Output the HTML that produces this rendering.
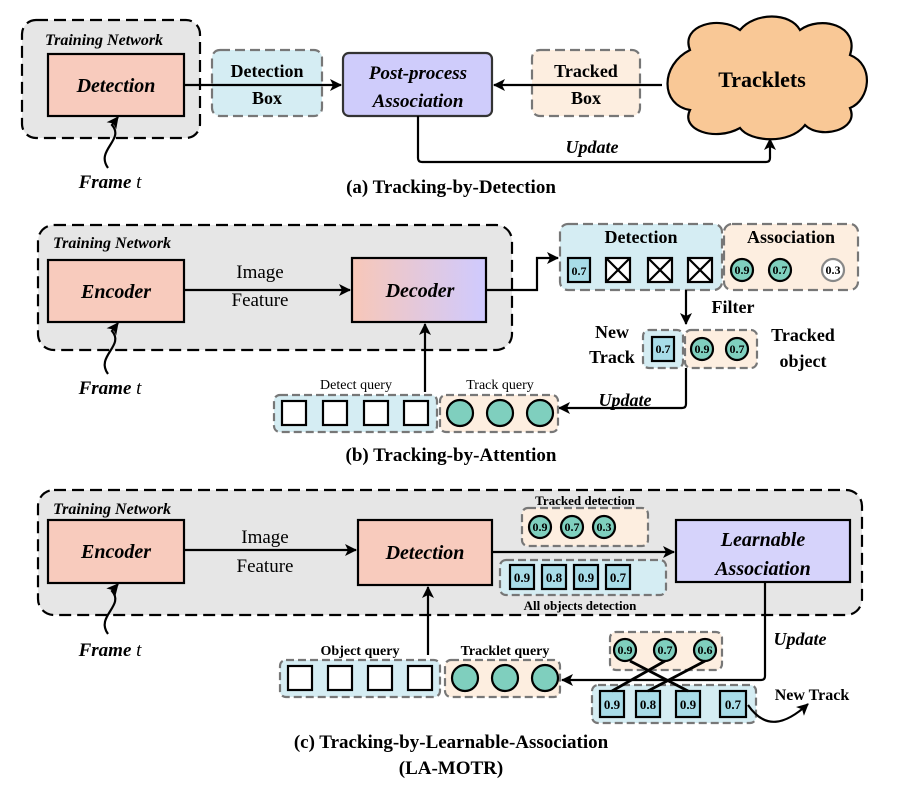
<!DOCTYPE html>
<html><head><meta charset="utf-8"><style>body{margin:0;background:#fff}svg{display:block}text{font-family:"Liberation Serif",serif}</style></head><body>
<svg width="912" height="797" viewBox="0 0 912 797" xmlns="http://www.w3.org/2000/svg">
<defs>
<marker id="ar" markerWidth="12" markerHeight="12" refX="11" refY="6" orient="auto" markerUnits="userSpaceOnUse"><path d="M0,0 L12,6 L0,12 L3,6z" fill="#000"/></marker>
<linearGradient id="dg" x1="0" x2="1"><stop offset="0" stop-color="#f8c7b8"/><stop offset="1" stop-color="#cfcaff"/></linearGradient>
</defs>
<g fill="none" stroke="#000" stroke-width="2.2">
<!-- (a) -->
<rect x="22" y="20" width="178" height="118" rx="14" fill="#e6e6e6" stroke-dasharray="12,6"/>
<rect x="48" y="54" width="136" height="62" fill="#f8cbbd"/>
<rect x="212" y="50" width="110" height="66" rx="8" fill="#d5edf3" stroke="#777" stroke-dasharray="10,5"/>
<rect x="343" y="53" width="149" height="63" rx="6" fill="#cfccfb" stroke="#333"/>
<rect x="532" y="50" width="108" height="66" rx="8" fill="#fdeee0" stroke="#777" stroke-dasharray="10,5"/>
<path d="M690,50 C680,25 720,15 740,30 C755,12 790,12 800,30 C820,15 860,25 850,55 C875,65 870,100 850,108 C860,130 820,140 805,125 C790,145 750,142 740,128 C715,142 680,130 690,110 C660,105 660,65 690,50z" fill="#f9c896"/>
<path d="M184,85 H341" marker-end="url(#ar)"/>
<path d="M662,85 H494" marker-end="url(#ar)"/>
<path d="M418,116 V158 Q418,162 422,162 H766 Q770,162 770,158 V139" marker-end="url(#ar)"/>
<path d="M108,168 C95,150 125,140 112,125 L118,117" marker-end="url(#ar)"/>
<!-- (b) -->
<rect x="38" y="225" width="474" height="125" rx="16" fill="#e6e6e6" stroke-dasharray="12,6"/>
<rect x="48" y="260" width="136" height="62" fill="#f8cbbd"/>
<rect x="352" y="258" width="134" height="64" fill="url(#dg)"/>
<path d="M184,290 H350" marker-end="url(#ar)"/>
<path d="M486,290 H537 V258 H558" marker-end="url(#ar)"/>
<rect x="560" y="224" width="162" height="66" rx="8" fill="#d5edf3" stroke="#777" stroke-dasharray="10,5"/>
<rect x="724" y="224" width="134" height="66" rx="8" fill="#fdeee0" stroke="#777" stroke-dasharray="10,5"/>
<rect x="568" y="258" width="22" height="24" fill="#a8dce8"/>
<g><rect x="606" y="258" width="24" height="24" fill="#fff"/><path d="M606,258 L630,282 M630,258 L606,282"/></g>
<g><rect x="648" y="258" width="24" height="24" fill="#fff"/><path d="M648,258 L672,282 M672,258 L648,282"/></g>
<g><rect x="688" y="258" width="24" height="24" fill="#fff"/><path d="M688,258 L712,282 M712,258 L688,282"/></g>
<circle cx="742" cy="270" r="11" fill="#7fcfbe"/><circle cx="780" cy="270" r="11" fill="#7fcfbe"/><circle cx="833" cy="270" r="11" fill="#fff" stroke="#888"/>
<path d="M686,290 V324" marker-end="url(#ar)"/>
<rect x="643" y="330" width="40" height="38" rx="6" fill="#d5edf3" stroke="#777" stroke-dasharray="8,4"/>
<rect x="685" y="330" width="72" height="38" rx="6" fill="#fdeee0" stroke="#777" stroke-dasharray="8,4"/>
<rect x="652" y="337" width="22" height="24" fill="#a8dce8"/>
<circle cx="702" cy="349" r="11" fill="#7fcfbe"/><circle cx="737" cy="349" r="11" fill="#7fcfbe"/>
<path d="M686,368 V404 Q686,408 682,408 H559" marker-end="url(#ar)"/>
<rect x="274" y="395" width="163" height="37" rx="6" fill="#d5edf3" stroke="#777" stroke-dasharray="8,4"/>
<rect x="440" y="395" width="118" height="37" rx="6" fill="#fdeee0" stroke="#777" stroke-dasharray="8,4"/>
<rect x="282" y="401" width="24" height="24" fill="#fff"/><rect x="323" y="401" width="24" height="24" fill="#fff"/><rect x="364" y="401" width="24" height="24" fill="#fff"/><rect x="404" y="401" width="24" height="24" fill="#fff"/>
<circle cx="460" cy="413" r="13" fill="#7fcfbe"/><circle cx="500" cy="413" r="13" fill="#7fcfbe"/><circle cx="540" cy="413" r="13" fill="#7fcfbe"/>
<path d="M425,392 V324" marker-end="url(#ar)"/>
<path d="M108,374 C95,356 125,346 112,331 L118,323" marker-end="url(#ar)"/>
<!-- (c) -->
<rect x="38" y="490" width="824" height="125" rx="16" fill="#e6e6e6" stroke-dasharray="12,6"/>
<rect x="48" y="520" width="136" height="63" fill="#f8cbbd"/>
<rect x="358" y="520" width="134" height="65" fill="#f8cbbd"/>
<rect x="676" y="520" width="174" height="62" fill="#d6d3fb"/>
<path d="M184,550 H356" marker-end="url(#ar)"/>
<path d="M492,552 H674" marker-end="url(#ar)"/>
<rect x="522" y="508" width="126" height="38" rx="6" fill="#fdeee0" stroke="#777" stroke-dasharray="8,4"/>
<circle cx="540" cy="527" r="11" fill="#7fcfbe"/><circle cx="572" cy="527" r="11" fill="#7fcfbe"/><circle cx="604" cy="527" r="11" fill="#7fcfbe"/>
<rect x="500" y="560" width="166" height="35" rx="6" fill="#d5edf3" stroke="#777" stroke-dasharray="8,4"/>
<rect x="510" y="565" width="24" height="24" fill="#a8dce8"/><rect x="542" y="565" width="24" height="24" fill="#a8dce8"/><rect x="574" y="565" width="24" height="24" fill="#a8dce8"/><rect x="606" y="565" width="24" height="24" fill="#a8dce8"/>
<rect x="610" y="632" width="112" height="38" rx="6" fill="#fdeee0" stroke="#777" stroke-dasharray="8,4"/>
<circle cx="625" cy="650" r="11" fill="#7fcfbe"/><circle cx="665" cy="650" r="11" fill="#7fcfbe"/><circle cx="705" cy="650" r="11" fill="#7fcfbe"/>
<rect x="592" y="685" width="164" height="38" rx="6" fill="#d5edf3" stroke="#777" stroke-dasharray="8,4"/>
<rect x="600" y="691" width="24" height="26" fill="#a8dce8"/><rect x="636" y="691" width="24" height="26" fill="#a8dce8"/><rect x="676" y="691" width="24" height="26" fill="#a8dce8"/><rect x="720" y="691" width="26" height="26" fill="#a8dce8"/>
<path d="M765,582 V676 Q765,680 761,680 H562" marker-end="url(#ar)"/>
<path d="M630,661 L688,691 M665,661 L612,691 M705,661 L648,691" stroke-width="2.8"/>
<rect x="280" y="660" width="160" height="37" rx="6" fill="#d5edf3" stroke="#777" stroke-dasharray="8,4"/>
<rect x="445" y="660" width="115" height="37" rx="6" fill="#fdeee0" stroke="#777" stroke-dasharray="8,4"/>
<rect x="288" y="666" width="24" height="24" fill="#fff"/><rect x="328" y="666" width="24" height="24" fill="#fff"/><rect x="368" y="666" width="24" height="24" fill="#fff"/><rect x="408" y="666" width="24" height="24" fill="#fff"/>
<circle cx="465" cy="678" r="13" fill="#7fcfbe"/><circle cx="505" cy="678" r="13" fill="#7fcfbe"/><circle cx="545" cy="678" r="13" fill="#7fcfbe"/>
<path d="M428,655 V587" marker-end="url(#ar)"/>
<path d="M748,705 C765,730 785,725 808,704" marker-end="url(#ar)"/>
<path d="M108,634 C95,616 125,606 112,591 L118,584" marker-end="url(#ar)"/>
</g>
<g font-weight="bold" text-anchor="middle">
<text x="104" y="45" font-style="italic" font-size="16">Training Network</text>
<text x="116" y="92" font-style="italic" font-size="20">Detection</text>
<text x="267" y="77" font-size="18">Detection</text><text x="267" y="104" font-size="18">Box</text>
<text x="418" y="79" font-style="italic" font-size="19">Post-process</text><text x="418" y="107" font-style="italic" font-size="19">Association</text>
<text x="586" y="77" font-size="18">Tracked</text><text x="586" y="104" font-size="18">Box</text>
<text x="762" y="87" font-size="22" font-family="Liberation Sans">Tracklets</text>
<text x="592" y="153" font-style="italic" font-size="18">Update</text>
<text x="110" y="188" font-style="italic" font-size="19">Frame <tspan font-weight="normal">t</tspan></text>
<text x="451" y="193" font-size="19">(a) Tracking-by-Detection</text>

<text x="112" y="248" font-style="italic" font-size="16">Training Network</text>
<text x="116" y="298" font-style="italic" font-size="20">Encoder</text>
<text x="420" y="297" font-style="italic" font-size="20">Decoder</text>
<text x="641" y="243" font-size="18">Detection</text>
<text x="791" y="243" font-size="18">Association</text>
<text x="579" y="275" font-size="12">0.7</text>
<text x="742" y="274" font-size="12">0.9</text><text x="780" y="274" font-size="12">0.7</text><text x="833" y="274" font-size="12">0.3</text>
<text x="733" y="313" font-size="18">Filter</text>
<text x="612" y="338" font-size="18">New</text><text x="612" y="363" font-size="18">Track</text>
<text x="663" y="353" font-size="12">0.7</text>
<text x="702" y="353" font-size="12">0.9</text><text x="737" y="353" font-size="12">0.7</text>
<text x="803" y="341" font-size="18">Tracked</text><text x="803" y="367" font-size="18">object</text>
<text x="625" y="406" font-style="italic" font-size="18">Update</text>
<text x="110" y="394" font-style="italic" font-size="19">Frame <tspan font-weight="normal">t</tspan></text>
<text x="451" y="461" font-size="19">(b) Tracking-by-Attention</text>

<text x="112" y="514" font-style="italic" font-size="16">Training Network</text>
<text x="116" y="558" font-style="italic" font-size="20">Encoder</text>
<text x="425" y="559" font-style="italic" font-size="20">Detection</text>
<text x="763" y="546" font-style="italic" font-size="20">Learnable</text><text x="763" y="575" font-style="italic" font-size="20">Association</text>
<text x="585" y="505" font-size="13">Tracked detection</text>
<text x="540" y="531" font-size="12">0.9</text><text x="572" y="531" font-size="12">0.7</text><text x="604" y="531" font-size="12">0.3</text>
<text x="522" y="582" font-size="13">0.9</text><text x="554" y="582" font-size="13">0.8</text><text x="586" y="582" font-size="13">0.9</text><text x="618" y="582" font-size="13">0.7</text>
<text x="580" y="610" font-size="13">All objects detection</text>
<text x="800" y="645" font-style="italic" font-size="18">Update</text>
<text x="625" y="654" font-size="12">0.9</text><text x="665" y="654" font-size="12">0.7</text><text x="705" y="654" font-size="12">0.6</text>
<text x="612" y="709" font-size="13">0.9</text><text x="648" y="709" font-size="13">0.8</text><text x="688" y="709" font-size="13">0.9</text><text x="733" y="709" font-size="13">0.7</text>
<text x="812" y="700" font-size="16">New Track</text>
<text x="360" y="655" font-size="14">Object query</text>
<text x="505" y="655" font-size="14">Tracklet query</text>
<text x="110" y="656" font-style="italic" font-size="19">Frame <tspan font-weight="normal">t</tspan></text>
<text x="451" y="748" font-size="19">(c) Tracking-by-Learnable-Association</text>
<text x="451" y="774" font-size="19">(LA-MOTR)</text>
</g>
<g text-anchor="middle" font-size="19">
<text x="260" y="278">Image</text><text x="260" y="306">Feature</text>
<text x="265" y="543">Image</text><text x="265" y="572">Feature</text>
<text x="356" y="389" font-size="14">Detect query</text>
<text x="500" y="389" font-size="14">Track query</text>
</g>
</svg>
</body></html>
